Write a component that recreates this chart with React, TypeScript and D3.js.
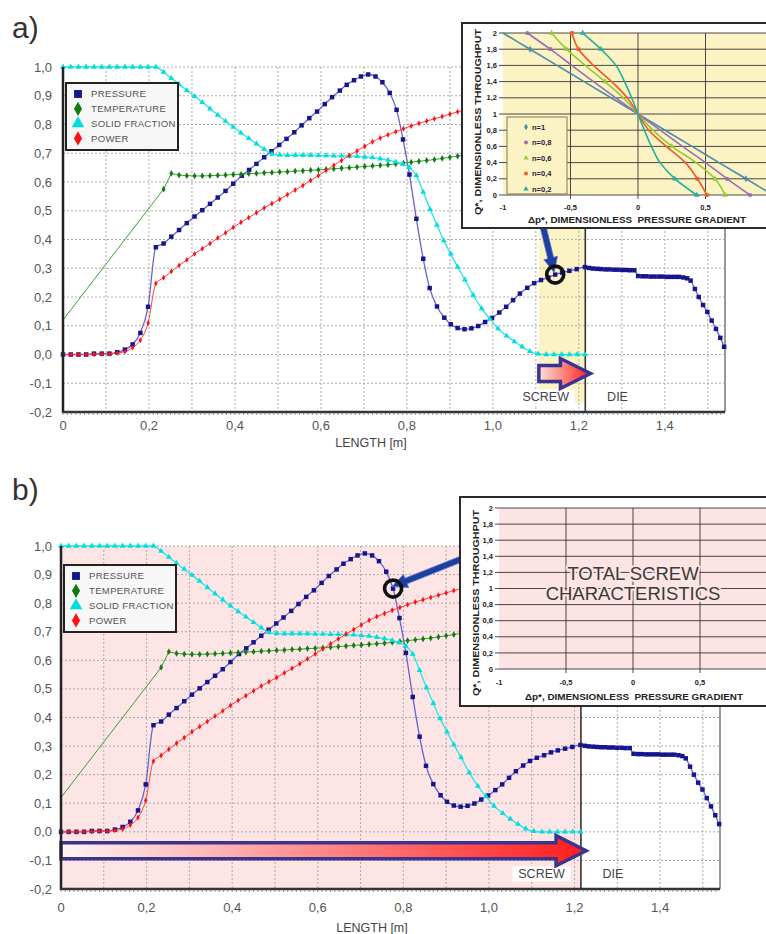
import React from 'react';
import * as d3 from 'd3';

const FONT = '"Liberation Sans", Arial, Helvetica, sans-serif';
const NARROW = '"Liberation Sans Narrow", "Liberation Sans", Arial, sans-serif';

type Pt = [number, number];

// main chart: [length m, dimensionless value]
const PRESSURE: Pt[] = [
  [0, 0], [0.018, 0], [0.036, 0], [0.054, 0], [0.072, 0.003], [0.09, 0.003], [0.108, 0.003], [0.126, 0.008],
  [0.144, 0.017], [0.162, 0.035], [0.18, 0.075], [0.198, 0.166], [0.216, 0.373], [0.234, 0.386], [0.252, 0.41],
  [0.27, 0.433], [0.288, 0.457], [0.306, 0.48], [0.324, 0.502], [0.342, 0.524], [0.36, 0.546], [0.378, 0.569],
  [0.396, 0.594], [0.416, 0.622], [0.433, 0.642], [0.45, 0.663], [0.468, 0.686], [0.485, 0.707], [0.503, 0.729],
  [0.52, 0.75], [0.538, 0.773], [0.555, 0.797], [0.573, 0.822], [0.591, 0.845], [0.609, 0.871], [0.626, 0.895],
  [0.644, 0.918], [0.66, 0.938], [0.677, 0.954], [0.693, 0.967], [0.71, 0.974], [0.727, 0.967], [0.743, 0.947],
  [0.76, 0.91], [0.776, 0.851], [0.791, 0.748], [0.806, 0.626], [0.822, 0.472], [0.838, 0.333], [0.853, 0.231],
  [0.87, 0.167], [0.887, 0.128], [0.902, 0.105], [0.918, 0.092], [0.934, 0.088], [0.95, 0.091], [0.966, 0.099],
  [0.982, 0.113], [0.998, 0.127], [1.015, 0.146], [1.031, 0.166], [1.047, 0.189], [1.063, 0.212], [1.08, 0.232],
  [1.096, 0.248], [1.112, 0.259], [1.129, 0.268], [1.145, 0.278], [1.161, 0.285], [1.178, 0.291], [1.195, 0.297],
  [1.214, 0.304],
];

const PRESSURE_DIE: Pt[] = [
  [1.224, 0.301], [1.233, 0.299], [1.243, 0.298], [1.252, 0.297], [1.262, 0.296], [1.271, 0.296], [1.281, 0.295],
  [1.29, 0.295], [1.3, 0.294], [1.31, 0.294], [1.319, 0.293], [1.329, 0.293], [1.338, 0.273], [1.348, 0.272],
  [1.357, 0.272], [1.367, 0.271], [1.376, 0.271], [1.386, 0.271], [1.395, 0.271], [1.405, 0.27], [1.414, 0.27],
  [1.424, 0.27], [1.433, 0.27], [1.443, 0.268], [1.452, 0.265], [1.46, 0.257], [1.47, 0.228], [1.479, 0.2],
  [1.489, 0.172], [1.499, 0.148], [1.509, 0.118], [1.519, 0.089], [1.529, 0.058], [1.538, 0.027],
];

const TEMPERATURE: Pt[] = [
  [0, 0.12], [0.234, 0.575], [0.252, 0.63], [0.27, 0.624], [0.288, 0.622], [0.306, 0.621], [0.324, 0.621],
  [0.342, 0.622], [0.36, 0.623], [0.378, 0.624], [0.396, 0.626], [0.414, 0.627], [0.432, 0.629], [0.45, 0.63],
  [0.468, 0.632], [0.486, 0.633], [0.504, 0.635], [0.522, 0.636], [0.54, 0.638], [0.558, 0.639], [0.576, 0.641],
  [0.594, 0.642], [0.612, 0.644], [0.63, 0.646], [0.648, 0.648], [0.666, 0.65], [0.684, 0.652], [0.702, 0.654],
  [0.72, 0.656], [0.738, 0.658], [0.756, 0.66], [0.774, 0.663], [0.792, 0.666], [0.81, 0.669], [0.828, 0.672],
  [0.846, 0.675], [0.864, 0.678], [0.882, 0.682], [0.9, 0.686], [0.918, 0.69], [0.936, 0.695], [0.954, 0.7],
];

const SOLID_FRACTION: Pt[] = [
  [0, 1], [0.018, 1], [0.036, 1], [0.054, 1], [0.072, 1], [0.09, 1], [0.108, 1], [0.126, 1], [0.144, 1],
  [0.162, 1], [0.18, 1], [0.198, 1], [0.216, 1], [0.234, 0.982], [0.252, 0.961], [0.27, 0.94], [0.288, 0.919],
  [0.306, 0.898], [0.324, 0.877], [0.342, 0.855], [0.36, 0.833], [0.378, 0.812], [0.396, 0.791], [0.414, 0.771],
  [0.432, 0.752], [0.45, 0.733], [0.468, 0.714], [0.486, 0.697], [0.504, 0.694], [0.522, 0.693], [0.54, 0.693],
  [0.558, 0.693], [0.576, 0.693], [0.594, 0.692], [0.612, 0.692], [0.63, 0.691], [0.648, 0.691], [0.666, 0.69],
  [0.684, 0.689], [0.702, 0.687], [0.72, 0.685], [0.738, 0.681], [0.756, 0.676], [0.774, 0.67], [0.79, 0.662],
  [0.806, 0.65], [0.822, 0.622], [0.838, 0.565], [0.854, 0.505], [0.87, 0.45], [0.886, 0.396], [0.902, 0.35],
  [0.918, 0.305], [0.935, 0.26], [0.954, 0.207], [0.974, 0.16], [0.993, 0.124], [1.012, 0.09], [1.032, 0.065],
  [1.05, 0.045], [1.068, 0.027], [1.086, 0.011], [1.105, 0.002], [1.124, 0], [1.142, 0], [1.16, 0], [1.178, 0],
  [1.196, 0], [1.214, 0],
];

const POWER: Pt[] = [
  [0, 0], [0.018, 0], [0.036, 0], [0.054, 0], [0.072, 0.001], [0.09, 0.002], [0.108, 0.002], [0.126, 0.005],
  [0.144, 0.01], [0.162, 0.024], [0.18, 0.05], [0.198, 0.11], [0.216, 0.247], [0.234, 0.267], [0.252, 0.289],
  [0.27, 0.31], [0.288, 0.329], [0.306, 0.35], [0.324, 0.368], [0.342, 0.386], [0.36, 0.405], [0.378, 0.423],
  [0.396, 0.442], [0.414, 0.46], [0.432, 0.476], [0.45, 0.493], [0.468, 0.51], [0.486, 0.525], [0.504, 0.54],
  [0.522, 0.556], [0.54, 0.572], [0.558, 0.588], [0.576, 0.605], [0.594, 0.622], [0.612, 0.64], [0.63, 0.658],
  [0.648, 0.675], [0.666, 0.692], [0.684, 0.708], [0.702, 0.724], [0.72, 0.74], [0.738, 0.753], [0.756, 0.764],
  [0.774, 0.775], [0.792, 0.785], [0.81, 0.795], [0.828, 0.804], [0.846, 0.812], [0.864, 0.82], [0.882, 0.828],
  [0.9, 0.836], [0.918, 0.844], [0.936, 0.852], [0.954, 0.86],
];

const LENGTH_MAX = 1.54;
const SCREW_END = 1.215;
const VALUE_MIN = -0.2;
const VALUE_MAX = 1.0;
const LENGTH_TICKS = [0, 0.2, 0.4, 0.6, 0.8, 1.0, 1.2, 1.4];
const LENGTH_GRID = [0.1, 0.2, 0.3, 0.4, 0.5, 0.6, 0.7, 0.8, 0.9, 1.0, 1.1, 1.2, 1.3, 1.4, 1.5];
const VALUE_TICKS = [1.0, 0.9, 0.8, 0.7, 0.6, 0.5, 0.4, 0.3, 0.2, 0.1, 0.0, -0.1, -0.2];
const ARROW_LEVEL = -0.066;

// inset: dimensionless throughput vs pressure gradient
const Q_STAR = [0, 0.2, 0.4, 0.6, 0.8, 1, 1.2, 1.4, 1.6, 1.8, 2];
const DP_N10 = [1, 0.8, 0.6, 0.4, 0.2, 0, -0.2, -0.4, -0.6, -0.8, -1];
const DP_N08 = [0.83, 0.66, 0.5, 0.33, 0.165, 0, -0.165, -0.33, -0.49, -0.65, -0.82];
const DP_N06 = [0.645, 0.57, 0.43, 0.25, 0.11, 0, -0.11, -0.245, -0.39, -0.53, -0.64];
const DP_N04 = [0.51, 0.44, 0.35, 0.21, 0.08, 0, -0.08, -0.195, -0.33, -0.44, -0.49];
const DP_N02 = [0.435, 0.274, 0.163, 0.1, 0.047, 0, -0.047, -0.1, -0.163, -0.274, -0.41];
const N_LABELS = ['n=1', 'n=0,8', 'n=0,6', 'n=0,4', 'n=0,2'];
const DP_TICKS = [-1, -0.5, 0, 0.5];

const SERIES = [
  { name: 'PRESSURE', data: [...PRESSURE, ...PRESSURE_DIE], line: '#6464cc', mark: '#15158c', sym: d3.symbolSquare, size: 20, lw: 1.3, from: 0, curve: d3.curveMonotoneX, legend: 62 },
  { name: 'TEMPERATURE', data: TEMPERATURE, line: '#35a035', mark: '#137a13', sym: d3.symbolDiamond, size: 13, lw: 1, from: 1, curve: d3.curveLinear, legend: 58 },
  { name: 'SOLID FRACTION', data: SOLID_FRACTION, line: '#2ae4e4', mark: '#00dede', sym: d3.symbolTriangle, size: 15, lw: 1.3, from: 0, curve: d3.curveMonotoneX, legend: 68 },
  { name: 'POWER', data: POWER, line: '#ff3c3c', mark: '#ff1010', sym: d3.symbolDiamond, size: 10, lw: 1, from: 0, curve: d3.curveMonotoneX, legend: 58 },
];

const INSET_SERIES = [
  { dp: DP_N10, color: '#4a8dab', sym: d3.symbolDiamond, marks: [0, 1, 9] },
  { dp: DP_N08, color: '#9a6fae', sym: d3.symbolCircle, marks: [0, 1, 9, 10] },
  { dp: DP_N06, color: '#97c932', sym: d3.symbolTriangle, marks: [0, 1, 3, 7, 9, 10] },
  { dp: DP_N04, color: '#f05a24', sym: d3.symbolSquare, marks: [0, 1, 9, 10] },
  { dp: DP_N02, color: '#1fb09e', sym: d3.symbolTriangle, marks: [0, 1, 9, 10] },
];

const fmtValue = (v: number) => v.toFixed(1).replace('.', ',');
const fmtLength = (v: number) => (v === 0 ? '0' : v.toFixed(1).replace('.', ','));
const fmtInset = (v: number) => (Number.isInteger(v) ? String(v) : String(v).replace('.', ','));

function arrowPath(x0: number, y0: number, x1: number, y1: number, shaft: number, headW: number, headL: number) {
  const len = Math.hypot(x1 - x0, y1 - y0);
  const ux = (x1 - x0) / len, uy = (y1 - y0) / len;
  const px = -uy, py = ux;
  const bx = x1 - ux * headL, by = y1 - uy * headL;
  const pts = [
    [x0 + px * shaft / 2, y0 + py * shaft / 2],
    [bx + px * shaft / 2, by + py * shaft / 2],
    [bx + px * headW / 2, by + py * headW / 2],
    [x1, y1],
    [bx - px * headW / 2, by - py * headW / 2],
    [bx - px * shaft / 2, by - py * shaft / 2],
    [x0 - px * shaft / 2, y0 - py * shaft / 2],
  ];
  return 'M' + pts.map((p) => p.join(',')).join('L') + 'Z';
}

function Inset({ cfg }: { cfg: any }) {
  const x = d3.scaleLinear().domain([-1, 1]).range([cfg.left, cfg.right]);
  const y = d3.scaleLinear().domain([0, 2]).range([cfg.bottom, cfg.top]);
  const curve = d3.line<Pt>().x((d) => x(d[0])).y((d) => y(d[1])).curve(d3.curveMonotoneY);
  const bold = { fontFamily: NARROW, fontWeight: 700, fill: '#222' } as const;
  return (
    <g>
      <rect x={cfg.boxLeft} y={cfg.boxTop} width={cfg.boxRight - cfg.boxLeft} height={cfg.boxBottom - cfg.boxTop}
        fill="#fff" stroke="#2a2a2a" strokeWidth={2} />
      <rect x={cfg.left} y={cfg.top} width={cfg.boxRight - cfg.left} height={cfg.bottom - cfg.top} fill={cfg.fill} />
      {Q_STAR.map((q) => (
        <line key={q} x1={cfg.left - 4} x2={cfg.boxRight} y1={y(q)} y2={y(q)} stroke="#333" strokeWidth={0.9} />
      ))}
      {DP_TICKS.slice(1).map((v) => (
        <line key={v} x1={x(v)} x2={x(v)} y1={cfg.top} y2={cfg.bottom + 4} stroke="#333" strokeWidth={0.9} />
      ))}
      {Q_STAR.map((q) => (
        <text key={q} x={cfg.left - 6} y={y(q)} dy="0.35em" textAnchor="end" fontSize={7.5} {...bold}>{fmtInset(q)}</text>
      ))}
      {DP_TICKS.map((v) => (
        <text key={v} x={x(v)} y={cfg.tickY} textAnchor="middle" fontSize={7.5} {...bold}>{fmtInset(v)}</text>
      ))}
      <text transform={`translate(${cfg.yTitleX},${cfg.yTitleY}) rotate(-90)`} textAnchor="middle" fontSize={9.6}
        textLength={186} lengthAdjust="spacingAndGlyphs" {...bold}>Q*, DIMENSIONLESS THROUGHPUT</text>
      <text x={cfg.xTitleX} y={cfg.xTitleY} textAnchor="middle" fontSize={9.3} textLength={218}
        lengthAdjust="spacingAndGlyphs" {...bold}>{'Δp*, DIMENSIONLESS\u00a0 PRESSURE GRADIENT'}</text>
      {cfg.curves && INSET_SERIES.map((s, i) => {
        const pts: Pt[] = Q_STAR.map((q, k) => [s.dp[k], q]);
        const sym = d3.symbol().type(s.sym).size(14)() as string;
        return (
          <g key={i}>
            <path d={curve(pts) as string} fill="none" stroke={s.color} strokeWidth={1.6} />
            {s.marks.map((k) => (
              <path key={k} d={sym} transform={`translate(${x(pts[k][0])},${y(pts[k][1])})`} fill={s.color} />
            ))}
          </g>
        );
      })}
      {cfg.curves && (
        <g>
          <rect x={cfg.legend.x} y={cfg.legend.y} width={60} height={77} fill={cfg.fill} stroke="#7d7a55" strokeWidth={1} />
          {INSET_SERIES.map((s, i) => (
            <g key={i} transform={`translate(${cfg.legend.x + 19},${cfg.legend.y + 10 + i * 15.5})`}>
              <path d={d3.symbol().type(s.sym).size(12)() as string} fill={s.color} />
              <text x={6} dy="0.35em" fontSize={7.5} {...bold} fill="#1c1c3c">{N_LABELS[i]}</text>
            </g>
          ))}
        </g>
      )}
      {cfg.caption && cfg.caption.map((t: string, i: number) => (
        <text key={t} x={x(0)} y={cfg.captionY + i * 19.5} textAnchor="middle" fontFamily={FONT} fontSize={18.5}
          fill="#3a3a3a" stroke={cfg.fill} strokeWidth={4} paintOrder="stroke" strokeLinejoin="round">{t}</text>
      ))}
    </g>
  );
}

function Panel({ cfg }: { cfg: any }) {
  const x = d3.scaleLinear().domain([0, LENGTH_MAX]).range([cfg.left, cfg.right]);
  const y = d3.scaleLinear().domain([VALUE_MIN, VALUE_MAX]).range([cfg.bottom, cfg.top]);
  const screwX = x(SCREW_END);
  const ay = y(ARROW_LEVEL);
  const gid = `grad-${cfg.id}`;
  const ringPt = PRESSURE.reduce((a, b) => (Math.abs(b[0] - cfg.ringAt) < Math.abs(a[0] - cfg.ringAt) ? b : a));
  const rx = x(ringPt[0]), ry = y(ringPt[1]);
  const labelY = y(-0.163);
  const screwLabelX = x(1.123);
  const minor = d3.range(0, LENGTH_MAX, 0.01);
  return (
    <g>
      <defs>
        <linearGradient id={gid} x1="0" x2="1" y1="0" y2="0">
          <stop offset="0" stopColor={cfg.shade === 'column' ? '#fde3d8' : '#fff4f4'} />
          <stop offset="1" stopColor="#ff1c1c" />
        </linearGradient>
      </defs>
      <text x={12} y={cfg.labelY} fontFamily={FONT} fontSize={30} fill="#333">{cfg.label}</text>
      {cfg.shade === 'column' ? (
        <rect x={x(1.107)} y={cfg.top} width={screwX - x(1.107)} height={y(-0.17) - cfg.top} fill="#fcf3c4" />
      ) : (
        <rect x={x(0)} y={cfg.top} width={screwX - x(0)} height={cfg.bottom - cfg.top} fill="#fde5e5" />
      )}
      {VALUE_TICKS.slice(0, -1).map((v) => (
        <line key={v} x1={x(0)} x2={cfg.right} y1={y(v)} y2={y(v)} stroke="#aaa" strokeWidth={1} strokeDasharray="2 2" />
      ))}
      {LENGTH_GRID.map((v) => (
        <line key={v} x1={x(v)} x2={x(v)} y1={cfg.top} y2={cfg.bottom} stroke="#aaa" strokeWidth={1} strokeDasharray="2 2" />
      ))}
      <rect x={screwLabelX - 29} y={labelY - 12} width={58} height={15} fill="#fff" />
      <line x1={cfg.right} x2={cfg.right} y1={cfg.top} y2={cfg.bottom} stroke="#999" strokeWidth={2} />
      <line x1={screwX} x2={screwX} y1={cfg.top} y2={cfg.bottom} stroke="#333" strokeWidth={1.6} />
      {SERIES.map((s) => {
        const sym = d3.symbol().type(s.sym).size(s.size)() as string;
        const line = d3.line<Pt>().x((d) => x(d[0])).y((d) => y(d[1])).curve(s.curve);
        return (
          <g key={s.name}>
            <path d={line(s.data) as string} fill="none" stroke={s.line} strokeWidth={s.lw} />
            {s.data.slice(s.from).map((d, i) => (
              <path key={i} d={sym} transform={`translate(${x(d[0])},${y(d[1])})`} fill={s.mark} />
            ))}
          </g>
        );
      })}
      <path d={arrowPath(x(cfg.arrowFrom), ay, x(SCREW_END + 0.012), ay, 16, 30, 30)} fill={`url(#${gid})`}
        stroke="#3b3390" strokeWidth={3.5} strokeLinejoin="miter" />
      <line x1={x(0)} x2={x(0)} y1={cfg.top} y2={cfg.bottom + 1} stroke="#222" strokeWidth={2.5} />
      <line x1={x(0)} x2={cfg.right} y1={cfg.bottom} y2={cfg.bottom} stroke="#333" strokeWidth={2.5} />
      {minor.map((v, i) => (
        <line key={i} x1={x(v)} x2={x(v)} y1={cfg.bottom} y2={cfg.bottom + 3} stroke="#555" strokeWidth={0.6} />
      ))}
      {VALUE_TICKS.map((v) => (
        <text key={v} x={52} y={y(v)} dy="0.35em" textAnchor="end" fontFamily={FONT} fontSize={13} fill="#555">{fmtValue(v)}</text>
      ))}
      {LENGTH_TICKS.map((v) => (
        <text key={v} x={x(v)} y={cfg.tickY} textAnchor="middle" fontFamily={FONT} fontSize={13} fill="#555">{fmtLength(v)}</text>
      ))}
      <text x={cfg.titleX} y={cfg.titleY} textAnchor="middle" fontFamily={FONT} fontSize={12.5} fill="#444">LENGTH [m]</text>
      <text x={screwLabelX} y={labelY} textAnchor="middle" fontFamily={FONT} fontSize={12.5} fill="#444">SCREW</text>
      <text x={x(1.29)} y={labelY} textAnchor="middle" fontFamily={FONT} fontSize={12.5} fill="#444">DIE</text>
      <g transform={`translate(${x(0) + 3},${cfg.top + cfg.legendDy})`}>
        <rect x={0} y={0} width={112} height={67} fill="#f7f7f7" stroke="#222" strokeWidth={2} />
        {SERIES.map((s, i) => (
          <g key={s.name} transform={`translate(12,${11 + i * 14.8})`}>
            <path d={d3.symbol().type(s.sym).size(s.legend)() as string} fill={s.mark} />
            <text x={13} dy="0.35em" fontFamily={FONT} fontSize={9.6} letterSpacing={0.3} fill="#555">{s.name}</text>
          </g>
        ))}
      </g>
      <path d={arrowPath(cfg.calloutFrom[0], cfg.calloutFrom[1], rx - 1, ry - 2, 6, 14, 15)} fill="#1e3f9e"
        stroke="#5577d6" strokeWidth={0.8} />
      <Inset cfg={cfg.inset} />
      <circle cx={rx} cy={ry} r={8.5} fill="none" stroke="#111" strokeWidth={3.6} />
    </g>
  );
}

const PANELS = [
  {
    id: 'a', label: 'a)', labelY: 38, left: 63, right: 725, top: 67, bottom: 412, tickY: 430, titleX: 371, titleY: 447,
    shade: 'column', ringAt: 1.145, calloutFrom: [541, 218], arrowFrom: 1.107, legendDy: 16,
    inset: {
      boxLeft: 462, boxTop: 23, boxRight: 772, boxBottom: 228, left: 503, right: 773, top: 33, bottom: 195,
      fill: '#fcf3c4', tickY: 210, yTitleX: 481, yTitleY: 122, xTitleX: 637, xTitleY: 223, curves: true,
      legend: { x: 507, y: 117 },
    },
  },
  {
    id: 'b', label: 'b)', labelY: 500, left: 61, right: 720, top: 546, bottom: 889, tickY: 912, titleX: 372, titleY: 932,
    shade: 'full', ringAt: 0.776, calloutFrom: [474, 554], arrowFrom: 0, legendDy: 19,
    inset: {
      boxLeft: 460, boxTop: 497, boxRight: 772, boxBottom: 706, left: 499, right: 767, top: 508, bottom: 669,
      fill: '#fde4e4', tickY: 685, yTitleX: 479, yTitleY: 603, xTitleX: 634, xTitleY: 700, curves: false,
      caption: ['TOTAL SCREW', 'CHARACTERISTICS'], captionY: 580,
    },
  },
];

export default function App() {
  return (
    <svg width={766} height={934} style={{ position: 'absolute', left: 0, top: 0, display: 'block', background: '#fff' }}>
      <rect width={766} height={934} fill="#fff" />
      {PANELS.map((p) => (
        <Panel key={p.id} cfg={p} />
      ))}
    </svg>
  );
}
